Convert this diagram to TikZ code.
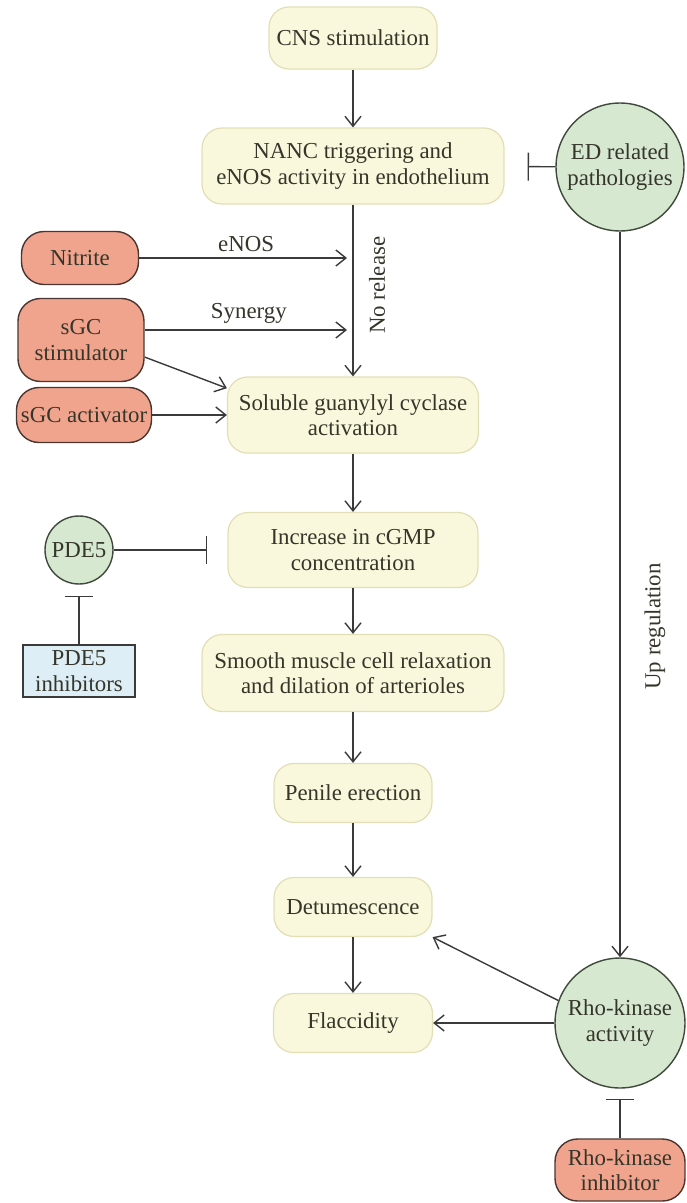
\documentclass[tikz,border=0pt]{standalone}
\usepackage{fontspec}
\setmainfont{Liberation Serif}
\usetikzlibrary{arrows.meta,positioning}

\definecolor{stagefill}{HTML}{FAF8DC}
\definecolor{stageline}{HTML}{E2DFB6}
\definecolor{agentfill}{HTML}{F1A48D}
\definecolor{agentline}{HTML}{4A3630}
\definecolor{factorfill}{HTML}{D6E8CF}
\definecolor{factorline}{HTML}{3F4A3C}
\definecolor{drugfill}{HTML}{DDEEF6}
\definecolor{drugline}{HTML}{3A3A3A}
\definecolor{linegray}{HTML}{3A3A3A}
\definecolor{textgray}{HTML}{35352A}

\begin{document}
\begin{tikzpicture}[
      x=0.02cm, y=-0.02cm,
      font=\fontsize{13}{14.5}\selectfont, text=textgray,
      stage/.style={
        rectangle,
        draw=stageline, fill=stagefill, line width=0.7pt,
        rounded corners=0.4cm,
        align=center, inner sep=2pt
      },
      agent/.style={
        rectangle,
        draw=agentline, fill=agentfill, line width=0.8pt,
        rounded corners=0.45cm,
        align=center, inner sep=2pt
      },
      factor/.style={
        circle,
        draw=factorline, fill=factorfill, line width=0.8pt,
        align=center, inner sep=0pt
      },
      drug/.style={
        rectangle,
        draw=drugline, fill=drugfill, line width=0.8pt,
        align=center, inner sep=2pt
      },
      arrow/.style={
        -{Straight Barb[length=0.2cm,width=0.32cm]},
        line width=0.8pt, draw=linegray
      },
      inhibit/.style={
        -{Bar[width=0.56cm]},
        line width=0.8pt, draw=linegray
      }
    ]
      \useasboundingbox (0,0) rectangle (686,1203);

      % main pathway
      \node[stage, minimum width=3.36cm, minimum height=1.24cm] (cns) at (353,38) {CNS stimulation};
      \node[stage, minimum width=6.04cm, minimum height=1.52cm] (nanc) at (353,166) {NANC triggering and \\ eNOS activity in endothelium};
      \node[stage, minimum width=5.02cm, minimum height=1.52cm] (sgc) at (353,415) {Soluble guanylyl cyclase \\ activation};
      \node[stage, minimum width=5.0cm, minimum height=1.5cm] (cgmp) at (353,550) {Increase in cGMP \\ concentration};
      \node[stage, minimum width=6.04cm, minimum height=1.54cm] (smooth) at (353,673) {Smooth muscle cell relaxation \\ and dilation of arterioles};
      \node[stage, minimum width=3.16cm, minimum height=1.18cm] (erection) at (353,793) {Penile erection};
      \node[stage, minimum width=3.16cm, minimum height=1.18cm] (detum) at (353,907) {Detumescence};
      \node[stage, minimum width=3.18cm, minimum height=1.18cm] (flacc) at (353,1023) {Flaccidity};

      % side factors
      \node[factor, minimum size=2.56cm] (ed) at (620,167) {ED related \\ pathologies};
      \node[agent, minimum width=2.34cm, minimum height=1.06cm] (nitrite) at (80,258) {Nitrite};
      \node[agent, minimum width=2.52cm, minimum height=1.66cm] (stim) at (81,340) {sGC \\ stimulator};
      \node[agent, minimum width=2.7cm, minimum height=1.1cm] (activ) at (84,415) {sGC activator};
      \node[factor, minimum size=1.36cm] (pde) at (79,550) {PDE5};
      \node[drug, minimum width=2.24cm, minimum height=1.04cm] (pdeinh) at (79,671) {PDE5 \\ inhibitors};
      \node[factor, minimum size=2.6cm] (rho) at (620,1023) {Rho-kinase \\ activity};
      \node[agent, minimum width=2.6cm, minimum height=1.24cm] (rhoinh) at (620,1170) {Rho-kinase \\ inhibitor};

      % connectors
      \draw[arrow] (cns) -- (nanc);
      \draw[arrow] (nanc) -- (sgc)
        node[pos=0.47, xshift=0.48cm, rotate=90] {No release};
      \draw[arrow, shorten >=0.12cm] (nitrite.east) -- (nitrite.east -| nanc.south)
        node[midway, above] {eNOS};
      \draw[arrow, shorten >=0.12cm] ([yshift=0.2cm]stim.east) -- ([yshift=0.2cm]stim.east -| nanc.south)
        node[midway, above] {Synergy};
      \draw[arrow] (stim.-15) -- (sgc.168);
      \draw[arrow] (activ) -- (sgc);
      \draw[arrow] (sgc) -- (cgmp);
      \draw[arrow] (cgmp) -- (smooth);
      \draw[arrow] (smooth) -- (erection);
      \draw[arrow] (erection) -- (detum);
      \draw[arrow] (detum) -- (flacc);
      \draw[inhibit, shorten >=0.4cm] (pde) -- (cgmp);
      \draw[inhibit, shorten >=0.22cm] (pdeinh) -- (pde);
      \draw[inhibit, shorten >=0.46cm] (ed) -- (nanc);
      \draw[arrow] (ed) -- (rho)
        node[pos=0.544, xshift=0.7cm, rotate=90] {Up regulation};
      \draw[arrow] (rho.160) -- (detum.south east);
      \draw[arrow] (rho) -- (flacc);
      \draw[inhibit, shorten >=0.2cm] (rhoinh) -- (rho);
    \end{tikzpicture}
\end{document}
